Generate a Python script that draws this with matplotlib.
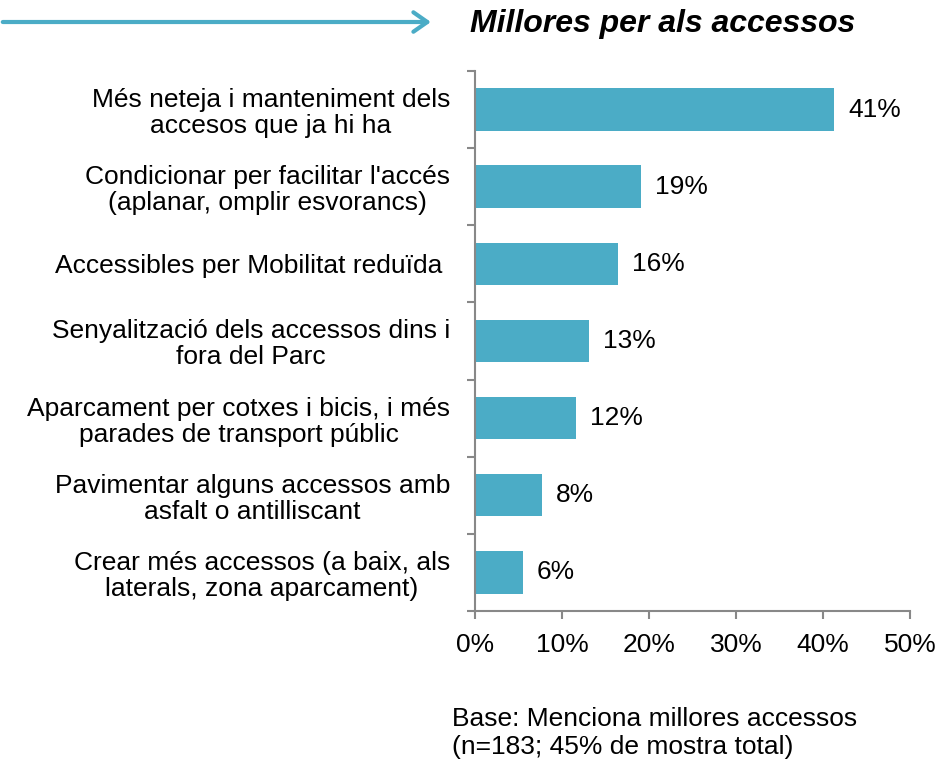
import matplotlib.pyplot as plt
from matplotlib.patches import FancyArrowPatch
from matplotlib.ticker import PercentFormatter

plt.rcParams['font.family'] = ['Liberation Sans', 'DejaVu Sans']

categories = [
    "Més neteja i manteniment dels\naccesos que ja hi ha",
    "Condicionar per facilitar l'accés\n(aplanar, omplir esvorancs)",
    "Accessibles per Mobilitat reduïda ",
    "Senyalització dels accessos dins i\nfora del Parc",
    "Aparcament per cotxes i bicis, i més\nparades de transport públic",
    "Pavimentar alguns accessos amb\nasfalt o antilliscant",
    "Crear més accessos (a baix, als\nlaterals, zona aparcament)",
]
values = [41.3, 19.1, 16.4, 13.1, 11.6, 7.7, 5.5]
labels = ["41%", "19%", "16%", "13%", "12%", "8%", "6%"]

bar_color = '#4BACC6'

fig = plt.figure(figsize=(9.49, 7.59), dpi=100)
ax = fig.add_axes([0.5005, 0.195, 0.4585, 0.7115])

y = list(range(len(categories)))[::-1]
ax.barh(y, values, height=0.55, color=bar_color)
for yi, v, lab in zip(y, values, labels):
    ax.text(v + 1.6, yi, lab, va='center', ha='left', fontsize=19)

ax.set_xlim(0, 50)
ax.set_ylim(-0.5, len(categories) - 0.5)
ax.xaxis.set_major_formatter(PercentFormatter(decimals=0))
ax.set_xticks([0, 10, 20, 30, 40, 50])
ax.set_yticks(y)
ax.set_yticklabels(categories, fontsize=19, multialignment='center', linespacing=1.1)
ax.set_yticks([i - 0.5 for i in range(len(categories) + 1)], minor=True)
ax.tick_params(axis='y', which='major', length=0, pad=18)
ax.tick_params(axis='y', which='minor', length=6, color='#888888', width=1.5)
ax.tick_params(axis='x', length=6, color='#888888', width=1.5, labelsize=19, pad=10)
for s in ['top', 'right']:
    ax.spines[s].set_visible(False)
for s in ['left', 'bottom']:
    ax.spines[s].set_color('#888888')
    ax.spines[s].set_linewidth(1.5)

# title with arrow
fig.patches.append(FancyArrowPatch(
    (0, 0.971), (0.457, 0.971), transform=fig.transFigure,
    arrowstyle='->,head_length=10,head_width=7', color=bar_color, lw=3,
    mutation_scale=1))
fig.text(0.495, 0.969, "Millores per als accessos", fontsize=23,
         fontweight='bold', fontstyle='italic', va='center', ha='left')

fig.text(0.476, 0.034, "Base: Menciona millores accessos\n(n=183; 45% de mostra total)",
         fontsize=19, ha='left', va='center', linespacing=1.2)

fig.savefig('out.png', dpi=100)
